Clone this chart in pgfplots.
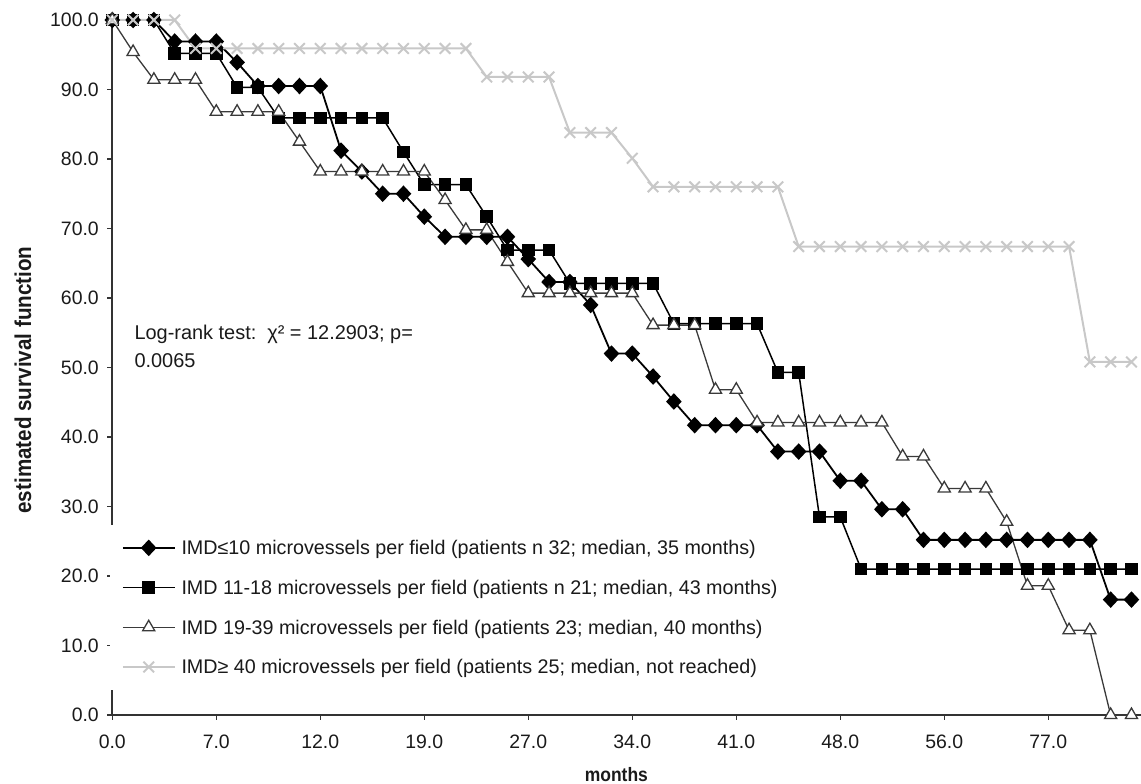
\documentclass[border=0pt]{standalone}
\usepackage{fontspec}
\setmainfont{Liberation Sans}
\newfontfamily\labelfont{Liberation Sans}[FakeStretch=0.9]
\usepackage{pgfplots}
\usepackage{pgfplotstable}
\pgfplotsset{compat=1.18}
\definecolor{Ink}{HTML}{1A1A1A}
\definecolor{AxisInk}{HTML}{333333}
\definecolor{TriInk}{HTML}{3A3A3A}
\definecolor{Cross}{HTML}{C8C8C8}

% survival (%) per event step; i = marker index on the category axis
\pgfplotstableread{
i d s t g
0 100 100 100 100
1 100 100 95.4 100
2 100 100 91.4 100
3 96.9 95.2 91.4 100
4 96.9 95.2 91.4 95.9
5 96.9 95.2 86.8 95.9
6 93.9 90.3 86.8 95.9
7 90.5 90.3 86.8 95.9
8 90.5 85.9 86.8 95.9
9 90.5 85.9 82.5 95.9
10 90.5 85.9 78.2 95.9
11 81.2 85.9 78.2 95.9
12 78.2 85.9 78.2 95.9
13 75.0 85.9 78.2 95.9
14 75.0 81.0 78.2 95.9
15 71.7 76.3 78.2 95.9
16 68.8 76.3 74.1 95.9
17 68.8 76.3 69.8 95.9
18 68.8 71.7 69.8 91.8
19 68.8 66.9 65.2 91.8
20 65.6 66.9 60.7 91.8
21 62.3 66.9 60.7 91.8
22 62.3 62.1 60.7 83.8
23 59.0 62.1 60.7 83.8
24 52.0 62.1 60.7 83.8
25 52.0 62.1 60.7 80.1
26 48.7 62.1 56.1 76.0
27 45.1 56.3 56.1 76.0
28 41.7 56.3 56.1 76.0
29 41.7 56.3 46.8 76.0
30 41.7 56.3 46.8 76.0
31 41.7 56.3 42.1 76.0
32 37.9 49.3 42.1 76.0
33 37.9 49.3 42.1 67.4
34 37.9 28.5 42.1 67.4
35 33.7 28.5 42.1 67.4
36 33.7 21.0 42.1 67.4
37 29.6 21.0 42.1 67.4
38 29.6 21.0 37.2 67.4
39 25.2 21.0 37.2 67.4
40 25.2 21.0 32.6 67.4
41 25.2 21.0 32.6 67.4
42 25.2 21.0 32.6 67.4
43 25.2 21.0 27.8 67.4
44 25.2 21.0 18.6 67.4
45 25.2 21.0 18.6 67.4
46 25.2 21.0 12.2 67.4
47 25.2 21.0 12.2 50.8
48 16.6 21.0 0 50.8
49 16.6 21.0 0 50.8
}\surv

\begin{document}
\begin{tikzpicture}
\useasboundingbox (0,0) rectangle (1141bp,784bp);
\begin{axis}[
  at={(112.3bp,69bp)}, anchor=south west,
  scale only axis, width=1028.7bp, height=695bp,
  xmin=0, xmax=49.46, ymin=0, ymax=100,
  clip=false,
  axis x line*=bottom, axis y line*=left,
  axis line style={-, draw=AxisInk, line width=1.8bp},
  xtick={0,5,...,45},
  xticklabels={0.0,7.0,12.0,19.0,27.0,34.0,41.0,48.0,56.0,77.0},
  ytick={0,10,...,100},
  tick align=outside, major tick length=5bp,
  tick style={draw=AxisInk, line width=1.5bp},
  tick label style={font=\fontsize{19.5}{22}\selectfont, color=Ink},
  yticklabel style={/pgf/number format/.cd, fixed, fixed zerofill, precision=1, assume math mode=true, /tikz/.cd, xshift=-5bp},
  xticklabel style={yshift=-11bp},
  xlabel={months}, ylabel={estimated survival function},
  xlabel style={at={(rel axis cs:0.49,-0.0863)}, anchor=center, font=\labelfont\bfseries\fontsize{19.5}{22}\selectfont, color=Ink},
  ylabel style={at={(rel axis cs:-0.0868,0.482)}, anchor=center, font=\labelfont\bfseries\fontsize{23}{25}\selectfont, color=Ink},
  legend style={at={(axis cs:-0.11,27.34)}, anchor=north west, fill=white, draw=none,
    font=\fontsize{19.8}{22}\selectfont, text=Ink,
    inner xsep=11.7bp, inner ysep=15.7bp, row sep=25.7bp, column sep=6bp,
    nodes={inner sep=0pt, text height=14bp, text depth=0pt}},
  legend cell align=left,
  legend image code/.code={\draw[mark repeat=2, mark phase=2, #1] plot coordinates {(0bp,0bp) (25.8bp,0bp) (51.6bp,0bp)};},
]
\addplot[black, line width=1.8bp, mark=diamond*, mark size=7bp, mark options={xscale=1.25, fill=black}]
  table[x=i, y=d] {\surv};
\addlegendentry{IMD≤10 microvessels per field (patients n 32; median, 35 months)}
\addplot[black, line width=1.5bp, mark=square*, mark size=5.5bp, mark options={fill=black}]
  table[x=i, y=s] {\surv};
\addlegendentry{IMD 11-18 microvessels per field (patients n 21; median, 43 months)}
\addplot[TriInk, line width=1.3bp, mark=triangle*, mark size=7bp, mark options={fill=white, draw=TriInk}]
  table[x=i, y=t] {\surv};
\addlegendentry{IMD 19-39 microvessels per field (patients 23; median, 40 months)}
\addplot[Cross, line width=2bp, mark=x, mark size=7.5bp]
  table[x=i, y=g] {\surv};
\addlegendentry{IMD≥ 40 microvessels per field (patients 25; median, not reached)}
\node[anchor=base west, font=\fontsize{20}{22}\selectfont, text=Ink] at (axis cs:0.9,53.96) {Log-rank test:\hspace{0.55em}χ² = 12.2903; p=};
\node[anchor=base west, font=\fontsize{20}{22}\selectfont, text=Ink] at (axis cs:0.9,50.07) {0.0065};
\end{axis}
\end{tikzpicture}
\end{document}
